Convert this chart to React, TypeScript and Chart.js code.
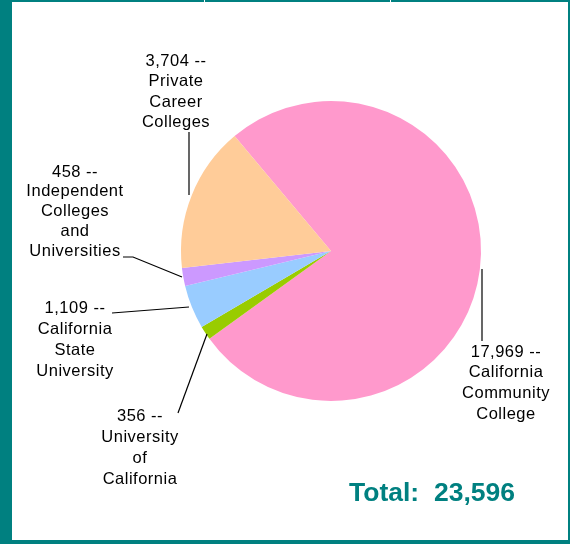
import React, { useEffect, useRef } from 'react';
import { Chart, registerables } from 'chart.js';

Chart.register(...registerables);

const categories = [
  'California Community College',
  'University of California',
  'California State University',
  'Independent Colleges and Universities',
  'Private Career Colleges',
];
const values = [17969, 356, 1109, 458, 3704];
const labelNameLines = [
  ['California', 'Community', 'College'],
  ['University', 'of', 'California'],
  ['California', 'State', 'University'],
  ['Independent', 'Colleges', 'and', 'Universities'],
  ['Private', 'Career', 'Colleges'],
];
const sliceColors = ['#FF99CC', '#99CC00', '#99CCFF', '#CC99FF', '#FFCC99'];
const totalPrefix = 'Total:  ';

// label placement (centre x, first line y, line height, leader polyline)
const labelLayout = [
  { x: 506, y: 352, lh: 20.7, leader: [[482, 269], [482, 341]] },
  { x: 140, y: 416, lh: 21, leader: [[178, 413], [207, 334]] },
  { x: 75, y: 308, lh: 21.2, leader: [[112, 313], [189, 307]] },
  { x: 75, y: 172, lh: 19.8, leader: [[123, 257], [133, 257], [182, 277]] },
  { x: 176, y: 61, lh: 20.5, leader: [[189, 132], [189, 195]] },
];

const TEAL = '#008080';

const decorPlugin = {
  id: 'decor',
  beforeDraw(chart: any) {
    const ctx = chart.ctx as CanvasRenderingContext2D;
    const w = chart.width;
    const h = chart.height;
    ctx.save();
    ctx.fillStyle = '#ffffff';
    ctx.fillRect(0, 0, w, h);
    ctx.fillStyle = TEAL;
    ctx.fillRect(0, 0, w, 2);
    ctx.fillRect(0, 0, 12, h);
    ctx.fillRect(w - 2, 0, 2, h);
    ctx.fillRect(0, h - 4, w, 4);
    ctx.fillStyle = '#ffffff';
    ctx.fillRect(204, 0, 1, 2);
    ctx.fillRect(390, 0, 1, 2);
    ctx.restore();
  },
  afterDraw(chart: any) {
    const ctx = chart.ctx as CanvasRenderingContext2D;
    ctx.save();
    // leader lines
    ctx.strokeStyle = '#000000';
    ctx.lineWidth = 1.2;
    labelLayout.forEach((l) => {
      ctx.beginPath();
      l.leader.forEach((p, i) => {
        if (i === 0) ctx.moveTo(p[0], p[1]);
        else ctx.lineTo(p[0], p[1]);
      });
      ctx.stroke();
    });
    // labels
    ctx.fillStyle = '#000000';
    ctx.font = '16.5px "Liberation Sans", Arial, sans-serif';
    (ctx as any).letterSpacing = '0.5px';
    ctx.textAlign = 'center';
    ctx.textBaseline = 'middle';
    values.forEach((v, i) => {
      const l = labelLayout[i];
      const lines = [v.toLocaleString('en-US') + ' --', ...labelNameLines[i]];
      lines.forEach((t, j) => ctx.fillText(t, l.x, l.y + j * l.lh));
    });
    // total
    const total = values.reduce((a, b) => a + b, 0);
    (ctx as any).letterSpacing = '0px';
    ctx.font = 'bold 26.5px "Liberation Sans", Arial, sans-serif';
    ctx.fillStyle = TEAL;
    ctx.fillText(totalPrefix + total.toLocaleString('en-US'), 432, 494);
    ctx.restore();
  },
};

export default function App() {
  const ref = useRef<HTMLCanvasElement | null>(null);
  useEffect(() => {
    if (!ref.current) return;
    const chart = new Chart(ref.current, {
      type: 'pie',
      data: {
        labels: categories,
        datasets: [
          {
            data: values,
            backgroundColor: sliceColors,
            borderWidth: 0,
          },
        ],
      },
      options: {
        responsive: false,
        animation: false,
        rotation: 320,
        layout: { padding: { left: 181, right: 89, top: 101, bottom: 143 } },
        plugins: {
          legend: { display: false },
          tooltip: { enabled: false },
        },
      },
      plugins: [decorPlugin],
    });
    return () => chart.destroy();
  }, []);
  return (
    <div style={{ position: 'fixed', left: 0, top: 0, width: 570, height: 544 }}>
      <canvas ref={ref} width={570} height={544} style={{ width: 570, height: 544, display: 'block' }} />
    </div>
  );
}
